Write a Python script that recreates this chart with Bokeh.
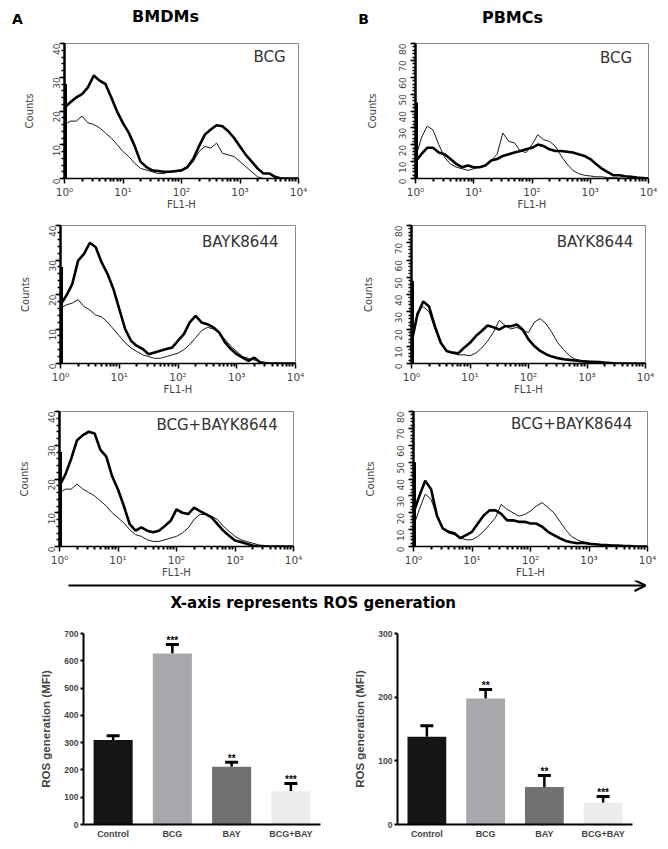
import math
from bokeh.plotting import figure
from bokeh.layouts import column, row
from bokeh.models import (Label, FixedTicker, Arrow, OpenHead, Whisker, TeeHead,
                          ColumnDataSource, Range1d, FactorRange)
from bokeh.core.properties import value
from bokeh.embed import file_html
from bokeh.resources import INLINE

# ---------------- data ----------------
# FL1-H channel positions (log10 exponent)
fl1_exp = [0.0, 0.1, 0.2, 0.3, 0.4, 0.5, 0.6, 0.7, 0.8, 0.9,
           1.0, 1.1, 1.2, 1.3, 1.4, 1.5, 1.6, 1.7, 1.8, 1.9,
           2.0, 2.1, 2.2, 2.3, 2.4, 2.5, 2.6, 2.7, 2.8, 2.9,
           3.0, 3.1, 3.2, 3.3, 3.4, 3.5, 3.6, 3.7, 3.8, 3.9, 4.0]

# BMDMs (counts 0-40)
bmdm_bcg_thick = [21, 22.6, 24, 25, 27, 30.5, 29, 28, 24, 19.8,
                  16.4, 13.5, 9.6, 5, 3.4, 2.4, 2.2, 2, 2, 2.2,
                  2.4, 3.4, 5.8, 9.6, 13, 14.5, 15.8, 15.5, 14, 12,
                  9.5, 7, 5, 3, 1.5, 1.5, 0.5, 0, 0, 0, 0]
bmdm_bcg_thin = [16, 17, 17, 18.5, 16.5, 16, 15, 13.5, 12, 10,
                 8, 6.5, 4.5, 3, 2.5, 2, 1.5, 1.5, 2, 2,
                 2.3, 3, 5, 8, 9.5, 9, 10.5, 7.5, 7, 6.5,
                 5, 3.5, 2, 0.5, 0, 0, 0, 0, 0, 0, 0]
bmdm_bay_thick = [17, 19.7, 23, 29.8, 31.8, 35, 33.7, 29.3, 26, 21.6,
                  15.8, 10, 6.6, 5.1, 4.2, 2.7, 3.2, 3.7, 4.2, 4.6,
                  6.6, 8.5, 11.9, 13.8, 11.9, 11.4, 10.5, 9, 6.1, 4.2,
                  2.7, 1.7, 0.8, 1.7, 0.3, 0, 0, 0, 0, 0, 0]
bmdm_bay_thin = [16, 17, 17.5, 18.5, 16.5, 15.5, 14, 13.5, 12, 10,
                 8, 6, 4.5, 3.5, 2.5, 2, 1.5, 1.5, 2, 2.5,
                 3, 4, 5.5, 7.5, 9.5, 10.5, 10, 9, 7, 5,
                 3.5, 2, 1.5, 1, 0.5, 0.3, 0, 0, 0, 0, 0]
bmdm_combo_thick = [18, 21.3, 26, 31.5, 33, 34, 33.5, 28.6, 26.6, 20.8,
                    16.9, 12, 6.6, 4.7, 5.7, 4.7, 4.2, 4.7, 6.1, 7.6,
                    11, 10, 9.6, 11.5, 10.5, 9.6, 8.6, 6.6, 4.7, 3.2,
                    1.8, 1.3, 0.8, 0.3, 0, 0, 0, 0, 0, 0, 0]
bmdm_combo_thin = [16, 17, 17, 18.5, 17, 16, 15, 13.5, 12, 10,
                   8.5, 7, 5, 3.5, 3, 2, 1.5, 1.5, 2, 2.5,
                   3, 4, 5.5, 8, 9.5, 9.5, 9, 8, 6, 4.5,
                   3, 2, 1.5, 1, 0.5, 0.3, 0, 0, 0, 0, 0]
bmdm_first_bin = [28, 28, 28]

# PBMCs (counts 0-80)
pbmc_bcg_thick = [10, 14.4, 18.2, 18.2, 15.4, 14.4, 11.5, 8.6, 6.7, 7.7,
                  6.7, 6.7, 7.7, 10.6, 11.5, 13.4, 14.4, 15.4, 16.3, 17.3,
                  18.2, 20.1, 19.2, 17.3, 16.3, 16.3, 15.9, 15.4, 14.4, 13.4,
                  11.5, 8.6, 5.8, 3.8, 1.9, 1.9, 1.3, 1, 0.5, 0.3, 0]
pbmc_bcg_thin = [12, 24, 31, 28.8, 20.1, 12.5, 8.6, 6.7, 5.8, 4.8,
                 5.8, 6.7, 7.7, 10.6, 14.4, 27, 22, 21.1, 16.3, 15.4,
                 20.1, 25.9, 23, 22, 19.2, 13.4, 8.6, 4.8, 2.9, 1.9,
                 1.5, 1, 1, 0.5, 0.5, 0.3, 0, 0, 0, 0, 0]
pbmc_bay_thick = [12, 28.3, 36, 33, 21.6, 12, 7.3, 6.3, 5.9, 9.2,
                  12, 15.9, 18.8, 22, 21, 19.7, 21.6, 21.6, 22.6, 19.7,
                  14, 10.1, 7.3, 5.4, 4, 3.1, 2.5, 2.1, 1.7, 1.3,
                  1.1, 1, 0.8, 0.5, 0.3, 0, 0, 0, 0, 0, 0]
pbmc_bay_thin = [10, 30, 33, 30, 20, 12, 7, 6, 5, 5,
                 4.5, 6, 9, 13, 18, 25, 22, 20, 21, 19,
                 18, 24, 26, 23, 18, 12, 8, 4.5, 2.5, 1.8,
                 1.5, 1, 1, 0.5, 0.3, 0, 0, 0, 0, 0, 0]
pbmc_combo_thick = [20, 30, 39, 34, 18.4, 10.7, 8.7, 7.8, 4.9, 6.8,
                    8.7, 13.6, 18.4, 21.4, 21.4, 19.4, 15.5, 15.5, 14.6, 14.6,
                    13.6, 13.6, 11.7, 8.7, 6.8, 4.9, 3.3, 2.5, 1.9, 2.3,
                    1.6, 1.3, 1, 0.8, 0.5, 0.5, 0.3, 0.3, 0, 0, 0]
pbmc_combo_thin = [12, 22, 31, 28, 18, 11, 8, 7, 5, 4,
                   4, 6, 9, 13, 17, 25, 22, 20, 18, 19,
                   21, 24, 26, 23, 20, 15, 10, 6, 4, 2.5,
                   2, 1.5, 1, 0.5, 0.5, 0.3, 0, 0, 0, 0, 0]
pbmc_first_bin = [45, 48, 50]

x_decades = [1, 10, 100, 1000, 10000]
x_decade_labels = ["10\u2070", "10\u00b9", "10\u00b2", "10\u00b3", "10\u2074"]
panel_labels = ["BCG", "BAYK8644", "BCG+BAYK8644"]

# Bar charts
groups = ["Control", "BCG", "BAY", "BCG+BAY"]
bmdm_mfi = [310, 627, 212, 122]
bmdm_mfi_upper = [325, 660, 228, 150]
bmdm_stars = ["", "***", "**", "***"]
pbmc_mfi = [138, 198, 59, 34]
pbmc_mfi_upper = [155, 212, 77, 44]
pbmc_stars = ["", "**", "**", "***"]
bar_colors = ["#151515", "#a7a8ac", "#717171", "#ececec"]

FONT = "DejaVu Sans"
BFONT = "Liberation Sans"

fl1 = [10 ** e for e in fl1_exp]
x_minor = [m * d for d in x_decades[:-1] for m in range(2, 10)]


def hist_fig(thick, thin, first_bin, label, lab_exp, lab_y, ymax, ystep, yminor,
             width, height, bl, br, bt, bb, tick_standoff, label_standoff):
    p = figure(width=width, height=height, x_axis_type="log",
               x_range=Range1d(1, 10000), y_range=Range1d(0, ymax),
               output_backend="svg", toolbar_location=None, title=None,
               min_border_left=bl, min_border_right=br,
               min_border_top=bt, min_border_bottom=bb)
    p.grid.visible = False
    p.outline_line_color = "#8a8a8a"
    p.outline_line_width = 1
    p.line(x=fl1, y=thin, line_color="#1a1a1a", line_width=1)
    p.line(x=fl1, y=thick, line_color="black", line_width=2.6)
    p.segment(x0=fl1[:1], y0=[0], x1=fl1[:1], y1=[first_bin],
              line_color="black", line_width=5)
    p.add_layout(Label(x=10 ** lab_exp, y=lab_y, text=label, text_align="right",
                       text_baseline="middle", text_font_size="15px",
                       text_font=FONT, text_color="#333333"))
    xa = p.xaxis[0]
    xa.ticker = FixedTicker(ticks=x_decades, minor_ticks=x_minor)
    xa.major_label_overrides = dict(zip(x_decades, x_decade_labels))
    xa.major_label_text_font = FONT
    xa.major_label_text_font_size = "10.5px"
    xa.major_label_standoff = 2
    xa.axis_label = "FL1-H"
    xa.axis_label_text_font = FONT
    xa.axis_label_text_font_size = "10px"
    xa.axis_label_text_font_style = "normal"
    xa.axis_label_standoff = -2
    xa.axis_line_width = 1.5
    xa.major_tick_out = 5
    xa.major_tick_in = 0
    xa.minor_tick_out = 3
    xa.minor_tick_in = 0
    xa.major_tick_line_width = 1.5
    xa.minor_tick_line_width = 2
    ya = p.yaxis[0]
    ya.ticker = FixedTicker(ticks=list(range(0, ymax + 1, ystep)),
                            minor_ticks=list(range(0, ymax + 1, yminor)))
    ya.major_label_orientation = math.pi / 2
    ya.major_label_text_font = FONT
    ya.major_label_text_font_size = "9px"
    ya.major_label_standoff = tick_standoff
    ya.axis_label = "Counts"
    ya.axis_label_text_font = FONT
    ya.axis_label_text_font_size = "10px"
    ya.axis_label_text_font_style = "normal"
    ya.axis_label_standoff = label_standoff
    ya.axis_line_width = 2.5
    ya.major_tick_out = 5
    ya.major_tick_in = 0
    ya.minor_tick_out = 3
    ya.minor_tick_in = 0
    ya.major_tick_line_width = 1.5
    ya.minor_tick_line_width = 1.5
    return p


def bar_fig(vals, upper, stars, ymax, width, height, bl, br, bt, bb, label_standoff):
    src = ColumnDataSource(dict(grp=groups, val=vals, up=upper, stars=stars, color=bar_colors))
    p = figure(width=width, height=height, x_range=FactorRange(factors=groups),
               y_range=Range1d(0, ymax), output_backend="svg", toolbar_location=None,
               title=None, min_border_left=bl, min_border_right=br,
               min_border_top=bt, min_border_bottom=bb)
    p.grid.visible = False
    p.outline_line_color = None
    p.vbar(x="grp", top="val", width=0.66, fill_color="color", line_color=None, source=src)
    p.add_layout(Whisker(source=src, base="grp", lower="val", upper="up",
                         dimension="height", line_width=2.5, line_color="black",
                         lower_head=None,
                         upper_head=TeeHead(size=13, line_width=3, line_color="black")))
    p.text(x="grp", y="up", text="stars", source=src, text_align="center",
           text_baseline="alphabetic", text_font_size="10px", text_font_style="bold",
           text_font=value(BFONT), text_color="black", y_offset=-4)
    xa = p.xaxis[0]
    xa.major_tick_out = 0
    xa.major_tick_in = 0
    xa.axis_line_width = 2
    xa.major_label_text_font = BFONT
    xa.major_label_text_font_size = "9px"
    xa.major_label_text_font_style = "bold"
    xa.major_label_standoff = 4
    ya = p.yaxis[0]
    ya.ticker = FixedTicker(ticks=list(range(0, ymax + 1, 100)))
    ya.axis_line_width = 2
    ya.major_tick_out = 3
    ya.major_tick_in = 0
    ya.major_tick_line_width = 2
    ya.minor_tick_out = 0
    ya.minor_tick_in = 0
    ya.major_label_text_font = BFONT
    ya.major_label_text_font_size = "8.5px"
    ya.major_label_text_font_style = "bold"
    ya.major_label_standoff = 2
    ya.axis_label = "ROS generation (MFI)"
    ya.axis_label_text_font = BFONT
    ya.axis_label_text_font_size = "11.5px"
    ya.axis_label_text_font_style = "bold"
    ya.axis_label_standoff = label_standoff
    return p


def blank_fig(width, height):
    p = figure(width=width, height=height, x_range=Range1d(0, width),
               y_range=Range1d(0, height), output_backend="svg",
               toolbar_location=None, title=None, x_axis_location=None,
               y_axis_location=None, min_border=0)
    p.grid.visible = False
    p.outline_line_color = None
    return p


# header
head = blank_fig(668, 38)
for txt, x, y, size in [("A", 17, 20, "14px"), ("BMDMs", 165, 22, "16px"),
                        ("B", 363, 20, "14px"), ("PBMCs", 512, 21, "16px")]:
    head.add_layout(Label(x=x, y=y, text=txt, text_align="center", text_baseline="middle",
                          text_font=FONT, text_font_size=size, text_font_style="bold",
                          text_color="black"))

# histogram rows
a1 = hist_fig(bmdm_bcg_thick, bmdm_bcg_thin, bmdm_first_bin[0], panel_labels[0], 3.78, 36,
              40, 10, 2, 334, 174, 64, 36, 5, 31, 3, 12)
b1 = hist_fig(pbmc_bcg_thick, pbmc_bcg_thin, pbmc_first_bin[0], panel_labels[0], 3.72, 71.4,
              80, 10, 2, 334, 174, 81, 20, 5, 31, 8, 15)
a2 = hist_fig(bmdm_bay_thick, bmdm_bay_thin, bmdm_first_bin[1], panel_labels[1], 3.71, 35.1,
              40, 10, 2, 334, 185, 60, 39, 13, 33, 3, 12)
b2 = hist_fig(pbmc_bay_thick, pbmc_bay_thin, pbmc_first_bin[1], panel_labels[1], 3.79, 70.2,
              80, 10, 2, 334, 185, 77, 23, 13, 33, 8, 15)
a3 = hist_fig(bmdm_combo_thick, bmdm_combo_thin, bmdm_first_bin[2], panel_labels[2], 3.73, 36,
              40, 10, 2, 334, 183, 59, 41, 14, 32, 3, 12)
b3 = hist_fig(pbmc_combo_thick, pbmc_combo_thin, pbmc_first_bin[2], panel_labels[2], 3.74, 72.4,
              80, 10, 2, 334, 183, 79, 21, 14, 32, 8, 15)

# arrow strip
arr = blank_fig(668, 40)
arr.add_layout(Arrow(end=OpenHead(size=11, line_width=2, line_color="black"),
                     x_start=68, y_start=35, x_end=645, y_end=35,
                     line_width=2, line_color="black"))
arr.add_layout(Label(x=170, y=18, text="X-axis represents ROS generation", text_align="left",
                     text_baseline="middle", text_font=FONT, text_font_size="15px",
                     text_font_style="bold", text_color="black"))

# bar charts
bar_l = bar_fig(bmdm_mfi, bmdm_mfi_upper, bmdm_stars, 700, 334, 221, 83, 14, 13, 16, 9)
bar_r = bar_fig(pbmc_mfi, pbmc_mfi_upper, pbmc_stars, 300, 334, 221, 63, 36, 8, 13, 9)

layout = column(head, row(a1, b1), row(a2, b2), row(a3, b3), arr, row(bar_l, bar_r))

open("out.html", "w").write(file_html(layout, INLINE))
